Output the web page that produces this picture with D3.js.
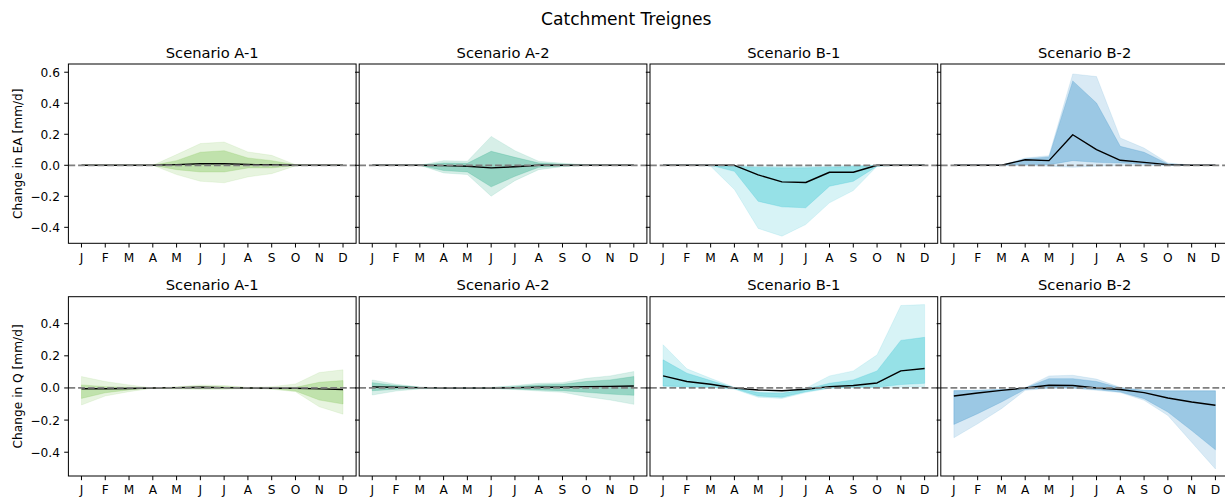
<!DOCTYPE html>
<html>
<head>
<meta charset="utf-8">
<script src="https://cdn.jsdelivr.net/npm/d3@7"></script>
<style>
  html, body { margin: 0; padding: 0; background: #fff; }
  svg { display: block; font-family: "DejaVu Sans", sans-serif; }
</style>
</head>
<body>
<svg id="chart" width="1225" height="502"></svg>
<script>
// Month tick labels (x axis) and y tick values for each row
const months = ["J", "F", "M", "A", "M", "J", "J", "A", "S", "O", "N", "D"];
const eaTicks = [-0.4, -0.2, 0.0, 0.2, 0.4, 0.6];
const qTicks = [-0.4, -0.2, 0.0, 0.2, 0.4];
const scenarios = ["A-1", "A-2", "B-1", "B-2"];
const scenarioColors = ["#86c95f", "#35b08e", "#35c5d3", "#3f95cb"];

// Change in actual evapotranspiration (EA), mm/d
const eaA1OuterHi = [0, 0, 0, 0, 0.069, 0.14, 0.15, 0.086, 0.064, 0.004, 0, 0];
const eaA1InnerHi = [0, 0, 0, 0, 0.03, 0.084, 0.094, 0.047, 0.03, 0.003, 0, 0];
const eaA1Median  = [0, 0, 0, 0, 0.004, 0.01, 0.01, 0.005, 0.003, 0, 0, 0];
const eaA1InnerLo = [0, 0, 0, 0, -0.028, -0.043, -0.043, -0.017, -0.017, -0.002, 0, 0];
const eaA1OuterLo = [0, 0, 0, 0, -0.06, -0.103, -0.113, -0.075, -0.054, -0.004, 0, 0];

const eaA2OuterHi = [0, 0, 0, 0.03, 0.026, 0.186, 0.094, 0.026, 0.013, 0.004, 0, 0];
const eaA2InnerHi = [0, 0, 0, 0.015, 0.013, 0.09, 0.051, 0.015, 0.006, 0.001, 0, 0];
const eaA2Median  = [0, 0, 0, -0.002, -0.006, -0.017, -0.009, 0, 0, 0, 0, 0];
const eaA2InnerLo = [0, 0, 0, -0.034, -0.043, -0.139, -0.071, -0.013, -0.004, 0, 0, 0];
const eaA2OuterLo = [0, 0, 0, -0.049, -0.06, -0.199, -0.099, -0.028, -0.009, -0.002, 0, 0];

const eaB1OuterHi = [0, 0, 0, -0.002, -0.005, -0.006, -0.006, -0.004, -0.002, 0, 0, 0];
const eaB1InnerHi = [0, 0, 0, -0.006, -0.014, -0.016, -0.016, -0.012, -0.008, 0, 0, 0];
const eaB1Median  = [0, 0, 0, 0, -0.062, -0.107, -0.111, -0.045, -0.045, 0, 0, 0];
const eaB1InnerLo = [0, 0, 0, -0.039, -0.232, -0.268, -0.274, -0.135, -0.103, -0.006, 0, 0];
const eaB1OuterLo = [0, 0, -0.006, -0.156, -0.407, -0.457, -0.382, -0.242, -0.163, -0.006, 0, 0];

const eaB2OuterHi = [0, 0, 0, 0.047, 0.062, 0.589, 0.572, 0.176, 0.111, 0.015, 0, 0];
const eaB2InnerHi = [0, 0, 0, 0.041, 0.054, 0.544, 0.401, 0.122, 0.084, 0.009, 0, 0];
const eaB2Median  = [0, 0, 0, 0.036, 0.03, 0.197, 0.101, 0.032, 0.019, 0.004, 0, 0];
const eaB2InnerLo = [0, 0, 0, 0.004, 0.004, 0.03, 0.019, 0.015, 0.009, 0, 0, 0];
const eaB2OuterLo = [0, 0, 0, -0.002, -0.006, -0.013, -0.006, -0.002, -0.002, 0, 0, 0];

// Change in discharge (Q), mm/d
const qA1OuterHi = [0.071, 0.04, 0.019, 0, 0.008, 0.019, 0.015, 0.004, 0.008, 0.025, 0.096, 0.113];
const qA1InnerHi = [0.019, 0.008, 0.004, 0, 0.004, 0.008, 0.008, 0.002, 0.002, 0.004, 0.035, 0.046];
const qA1Median  = [-0.005, -0.005, -0.003, 0, 0.002, 0.004, 0.002, 0, -0.002, -0.002, -0.006, -0.01];
const qA1InnerLo = [-0.065, -0.03, -0.012, 0, -0.002, -0.004, -0.004, -0.002, -0.004, -0.019, -0.075, -0.1];
const qA1OuterLo = [-0.106, -0.05, -0.023, -0.002, -0.006, -0.008, -0.008, -0.004, -0.008, -0.023, -0.117, -0.163];

const qA2OuterHi = [0.05, 0.023, 0.006, 0, 0.002, 0.004, 0.015, 0.029, 0.033, 0.06, 0.075, 0.102];
const qA2InnerHi = [0.033, 0.015, 0.004, 0, 0.002, 0.002, 0.008, 0.019, 0.023, 0.04, 0.05, 0.071];
const qA2Median  = [0.006, 0.004, 0.002, 0, 0, 0, 0.002, 0.004, 0.004, 0.008, 0.01, 0.012];
const qA2InnerLo = [-0.017, -0.008, -0.002, 0, -0.002, -0.002, -0.006, -0.012, -0.017, -0.027, -0.038, -0.046];
const qA2OuterLo = [-0.044, -0.019, -0.006, -0.002, -0.004, -0.004, -0.01, -0.019, -0.027, -0.054, -0.075, -0.102];

const qB1OuterHi = [0.269, 0.119, 0.06, 0.004, -0.023, -0.023, -0.002, 0.075, 0.106, 0.206, 0.513, 0.519];
const qB1InnerHi = [0.175, 0.092, 0.046, 0, -0.029, -0.033, -0.008, 0.029, 0.05, 0.106, 0.296, 0.315];
const qB1Median  = [0.075, 0.04, 0.023, 0, -0.0125, -0.017, -0.008, 0.008, 0.015, 0.031, 0.106, 0.121];
const qB1InnerLo = [0.0125, 0.008, 0.004, -0.004, -0.05, -0.058, -0.023, 0, 0.004, 0.004, 0.021, 0.029];
const qB1OuterLo = [0.008, 0.004, 0.002, -0.008, -0.058, -0.065, -0.029, -0.002, 0.002, 0.002, 0.004, 0.008];

const qB2OuterHi = [-0.015, -0.013, -0.008, 0.002, 0.075, 0.079, 0.055, 0.004, -0.012, -0.017, -0.017, -0.017];
const qB2InnerHi = [-0.017, -0.015, -0.01, 0, 0.058, 0.058, 0.04, 0, -0.015, -0.018, -0.018, -0.018];
const qB2Median  = [-0.05, -0.031, -0.015, 0, 0.017, 0.015, 0, -0.01, -0.029, -0.0625, -0.0875, -0.108];
const qB2InnerLo = [-0.227, -0.16, -0.0875, -0.008, 0, 0, -0.01, -0.025, -0.067, -0.15, -0.265, -0.385];
const qB2OuterLo = [-0.31, -0.223, -0.129, -0.015, -0.002, -0.002, -0.015, -0.029, -0.077, -0.171, -0.338, -0.504];

// Panel table built from the arrays above
const rows = [
  {
    label: "Change in EA [mm/d]", ticks: eaTicks, domain: [-0.503, 0.653],
    panels: [
      [eaA1OuterLo, eaA1OuterHi, eaA1InnerLo, eaA1InnerHi, eaA1Median],
      [eaA2OuterLo, eaA2OuterHi, eaA2InnerLo, eaA2InnerHi, eaA2Median],
      [eaB1OuterLo, eaB1OuterHi, eaB1InnerLo, eaB1InnerHi, eaB1Median],
      [eaB2OuterLo, eaB2OuterHi, eaB2InnerLo, eaB2InnerHi, eaB2Median]
    ]
  },
  {
    label: "Change in Q [mm/d]", ticks: qTicks, domain: [-0.548, 0.568],
    panels: [
      [qA1OuterLo, qA1OuterHi, qA1InnerLo, qA1InnerHi, qA1Median],
      [qA2OuterLo, qA2OuterHi, qA2InnerLo, qA2InnerHi, qA2Median],
      [qB1OuterLo, qB1OuterHi, qB1InnerLo, qB1InnerHi, qB1Median],
      [qB2OuterLo, qB2OuterHi, qB2InnerLo, qB2InnerHi, qB2Median]
    ]
  }
];

// Layout
const panelW = 287.7, panelH = 179.3;
const panelLeft0 = 68.4, panelStep = 290.8;
const rowTops = [64, 296.7];
const tickLen = 4.2, tickFont = 12.2, titleFont = 14.7;
const fmt = d3.format(".1f");

const svg = d3.select("#chart");

svg.append("text")
  .attr("x", 626.3).attr("y", 25)
  .attr("text-anchor", "middle")
  .attr("font-size", 17.1)
  .attr("fill", "#000")
  .text("Catchment Treignes");

const x = d3.scaleLinear().domain([-0.55, 11.55]).range([0, panelW]);

rows.forEach((row, r) => {
  const top = rowTops[r];
  const y = d3.scaleLinear().domain(row.domain).range([panelH, 0]);

  // y-axis label on the first column
  svg.append("text")
    .attr("transform", `translate(21.7,${top + panelH / 2}) rotate(-90)`)
    .attr("text-anchor", "middle")
    .attr("font-size", tickFont)
    .attr("fill", "#000")
    .text(row.label);

  row.panels.forEach((p, c) => {
    const [outerLo, outerHi, innerLo, innerHi, median] = p;
    const color = scenarioColors[c];
    const left = panelLeft0 + c * panelStep;
    const g = svg.append("g").attr("transform", `translate(${left},${top})`);

    const clipId = `clip-${r}-${c}`;
    g.append("clipPath").attr("id", clipId)
      .append("rect").attr("width", panelW).attr("height", panelH);
    const plot = g.append("g").attr("clip-path", `url(#${clipId})`);

    const band = (lo, hi) => d3.area()
      .x((d, i) => x(i))
      .y0((d, i) => y(lo[i]))
      .y1((d, i) => y(hi[i]))(months);

    plot.append("path").attr("d", band(outerLo, outerHi))
      .attr("fill", color).attr("fill-opacity", 0.2)
      .attr("stroke", color).attr("stroke-opacity", 0.2).attr("stroke-width", 0.6);
    plot.append("path").attr("d", band(innerLo, innerHi))
      .attr("fill", color).attr("fill-opacity", 0.4)
      .attr("stroke", color).attr("stroke-opacity", 0.4).attr("stroke-width", 0.6);

    const line = d3.line().x((d, i) => x(i)).y(d => y(d));
    plot.append("path").attr("d", line(median))
      .attr("fill", "none").attr("stroke", "#000").attr("stroke-width", 1.4)
      .attr("stroke-linejoin", "round");

    // zero reference line
    plot.append("line")
      .attr("x1", 0).attr("x2", panelW)
      .attr("y1", y(0)).attr("y2", y(0))
      .attr("stroke", "#7f7f7f").attr("stroke-width", 1.8)
      .attr("stroke-dasharray", "6.8,2.9");

    // frame
    g.append("rect").attr("width", panelW).attr("height", panelH)
      .attr("fill", "none").attr("stroke", "#000").attr("stroke-width", 1);

    // x ticks and month labels
    const xt = g.append("g");
    months.forEach((m, i) => {
      xt.append("line")
        .attr("x1", x(i)).attr("x2", x(i))
        .attr("y1", panelH).attr("y2", panelH + tickLen)
        .attr("stroke", "#000").attr("stroke-width", 1);
      xt.append("text")
        .attr("x", x(i)).attr("y", panelH + 18.4)
        .attr("text-anchor", "middle")
        .attr("font-size", tickFont).attr("fill", "#000")
        .text(m);
    });

    // y ticks (labels only on the first column)
    const yt = g.append("g");
    row.ticks.forEach(t => {
      yt.append("line")
        .attr("x1", -tickLen).attr("x2", 0)
        .attr("y1", y(t)).attr("y2", y(t))
        .attr("stroke", "#000").attr("stroke-width", 1);
      if (c === 0) {
        yt.append("text")
          .attr("x", -tickLen - 4.2).attr("y", y(t))
          .attr("dy", "0.365em")
          .attr("text-anchor", "end")
          .attr("font-size", tickFont).attr("fill", "#000")
          .text(fmt(t));
      }
    });

    // panel title
    g.append("text")
      .attr("x", panelW / 2).attr("y", -6.3)
      .attr("text-anchor", "middle")
      .attr("font-size", titleFont).attr("fill", "#000")
      .text("Scenario " + scenarios[c]);
  });
});
</script>
</body>
</html>
